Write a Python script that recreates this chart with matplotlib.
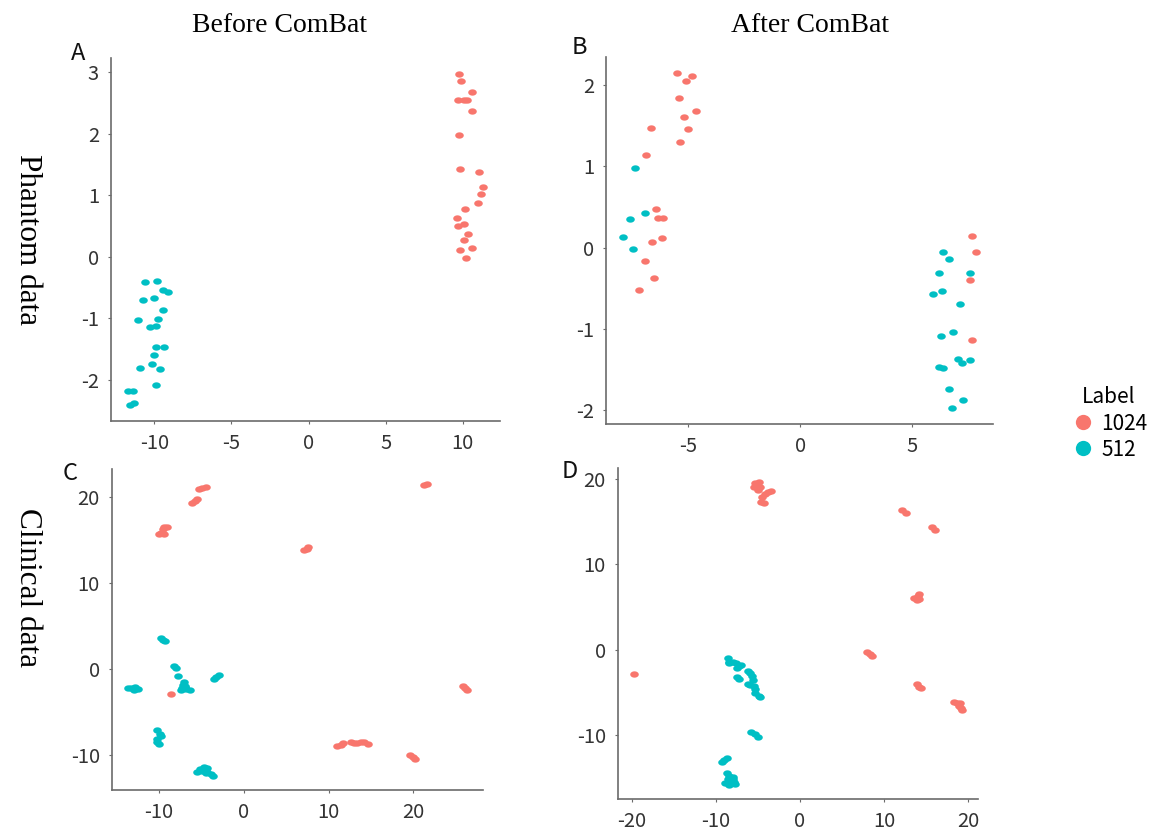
import numpy as np
import matplotlib
matplotlib.use("Agg")
import matplotlib.pyplot as plt
from matplotlib.path import Path
from matplotlib.lines import Line2D

# ---------------- data ----------------
labels = ["1024", "512"]
colors = {"1024": "#F8766D", "512": "#00BFC4"}

# Panel A: Phantom data, before ComBat
A_red_x = [9.78, 9.91, 10.63, 9.68, 10.11, 10.30, 10.63, 9.76, 9.83, 11.06, 11.30, 11.17,
           10.97, 10.15, 9.65, 9.72, 10.11, 10.35, 10.06, 9.83, 10.60, 10.24]
A_red_y = [2.97, 2.85, 2.67, 2.54, 2.54, 2.54, 2.37, 1.98, 1.42, 1.38, 1.125, 1.02,
           0.87, 0.77, 0.63, 0.49, 0.53, 0.36, 0.27, 0.10, 0.14, -0.02]
A_cyan_x = [-10.63, -9.81, -9.44, -9.14, -10.73, -10.02, -9.44, -11.04, -9.74, -10.26, -9.87,
            -9.87, -9.37, -10.02, -10.15, -10.93, -9.65, -9.89, -11.73, -11.38, -11.56, -11.30]
A_cyan_y = [-0.41, -0.39, -0.54, -0.57, -0.70, -0.67, -0.875, -1.04, -1.02, -1.15, -1.125,
            -1.47, -1.47, -1.60, -1.74, -1.82, -1.83, -2.09, -2.19, -2.19, -2.41, -2.375]

# Panel B: Phantom data, after ComBat
B_red_x = [-5.48, -5.10, -4.81, -5.39, -4.67, -5.17, -4.99, -5.36, -6.64, -6.89, -6.45,
           -6.37, -6.12, -6.60, -6.17, -6.91, -6.51, -7.21, 7.64, 7.83, 7.55, 7.65]
B_red_y = [2.15, 2.06, 2.12, 1.84, 1.68, 1.61, 1.46, 1.30, 1.48, 1.14, 0.47,
           0.37, 0.37, 0.074, 0.12, -0.17, -0.37, -0.52, 0.144, -0.053, -0.40, -1.14]
B_cyan_x = [-7.36, -7.59, -6.94, -7.92, -7.47, 6.37, 6.61, 6.20, 7.56, 5.90, 6.31, 7.13,
            6.27, 6.79, 6.20, 6.37, 7.01, 7.19, 7.55, 6.61, 7.25, 6.76]
B_cyan_y = [0.98, 0.35, 0.42, 0.136, -0.012, -0.05, -0.14, -0.32, -0.31, -0.57, -0.54, -0.70,
            -1.09, -1.04, -1.47, -1.49, -1.37, -1.42, -1.39, -1.74, -1.88, -1.98]

# Panel C: Clinical data, before ComBat
C_red_x = [-5.3, -4.9, -4.5, -6.1, -5.8, -5.5, -9.4, -9.1, -9.6, -9.8, -9.4, -10.0,
           7.1, 7.4, 7.6, 21.2, 21.6, 25.8, 26.1, 26.35, -8.58,
           11.0, 11.4, 11.75, 12.6, 13.0, 13.3, 13.8, 14.2, 14.6, 19.6, 20.0, 20.2]
C_red_y = [20.95, 21.1, 21.2, 19.4, 19.6, 19.8, 16.6, 16.5, 16.3, 15.8, 15.7, 15.7,
           13.85, 14.05, 14.25, 21.45, 21.6, -1.95, -2.15, -2.4, -2.87,
           -8.9, -8.75, -8.55, -8.45, -8.6, -8.6, -8.5, -8.45, -8.65, -10.0, -10.2, -10.45]
C_cyan_x = [-9.8, -9.5, -9.3, -8.2, -8.0, -7.83, -3.55, -3.25, -2.95,
            -7.05, -7.2, -6.9, -7.3, -6.8, -6.4, -7.0, -7.4,
            -13.7, -13.3, -12.9, -12.5, -13.0,
            -10.3, -9.9, -9.75, -10.2, -10.3, -10.05,
            -5.2, -4.7, -4.3, -4.9, -4.4, -3.9, -3.7, -5.5, -4.5]
C_cyan_y = [3.6, 3.4, 3.25, 0.4, 0.2, -0.74, -1.1, -0.9, -0.7,
            -1.43, -1.8, -1.9, -2.2, -2.3, -2.4, -2.0, -2.35,
            -2.15, -2.2, -2.1, -2.25, -2.35,
            -7.1, -7.5, -7.8, -8.1, -8.5, -8.7,
            -11.6, -11.4, -11.5, -11.8, -11.9, -12.2, -12.4, -11.9, -12.1]

# Panel D: Clinical data, after ComBat
D_red_x = [-5.4, -4.9, -5.1, -4.7, -5.5, -5.0, -4.2, -3.8, -3.5, -4.5, -4.6, -4.3,
           12.2, 12.6, 15.7, 16.1, 13.6, 14.0, 14.2, 13.9, 14.2,
           8.0, 8.3, 8.55, -19.76, 13.9, 14.2, 14.4,
           18.3, 18.7, 19.0, 18.9, 19.2, 19.3]
D_red_y = [19.5, 19.6, 19.1, 19.0, 19.0, 18.7, 18.2, 18.45, 18.6, 17.9, 17.3, 17.2,
           16.3, 16.0, 14.3, 14.0, 6.0, 6.3, 5.9, 5.8, 6.45,
           -0.3, -0.55, -0.75, -2.9, -4.05, -4.35, -4.55,
           -6.1, -6.2, -6.25, -6.6, -6.9, -7.1]
D_cyan_x = [-8.6, -8.4, -8.0, -7.6, -7.3, -7.0, -7.5, -8.5, -7.5, -7.2,
            -6.2, -6.0, -5.7, -5.6, -5.9, -5.5, -6.2, -5.3, -5.3, -4.9, -4.7,
            -5.8, -5.4, -5.0, -9.3, -9.0, -8.7,
            -8.7, -8.4, -8.0, -8.6, -8.2, -7.8, -8.9, -8.4, -7.7, -8.0]
D_cyan_y = [-1.0, -1.4, -1.4, -1.6, -1.9, -1.8, -2.1, -1.6, -3.2, -3.5,
            -2.5, -2.8, -3.1, -3.6, -4.1, -4.3, -4.0, -4.6, -5.1, -5.4, -5.6,
            -9.7, -9.9, -10.2, -13.2, -12.9, -12.7,
            -14.4, -14.8, -14.9, -15.2, -15.4, -15.5, -15.6, -15.9, -15.8, -15.2]

A_xticks = [-10, -5, 0, 5, 10]; A_yticks = [-2, -1, 0, 1, 2, 3]
B_xticks = [-5, 0, 5]; B_yticks = [-2, -1, 0, 1, 2]
C_xticks = [-10, 0, 10, 20]; C_yticks = [-10, 0, 10, 20]
D_xticks = [-20, -10, 0, 10, 20]; D_yticks = [-10, 0, 10, 20]

col_titles = ["Before ComBat", "After ComBat"]
row_titles = ["Phantom data", "Clinical data"]
panel_letters = ["A", "B", "C", "D"]

# ---------------- figure ----------------
W, H = 1158, 835
fig = plt.figure(figsize=(W / 100, H / 100), dpi=100)

SANS = ["Noto Sans CJK SC", "DejaVu Sans"]
SERIF = ["Liberation Serif", "DejaVu Serif"]

# slightly wide ellipse marker
t = np.linspace(0, 2 * np.pi, 40)
ell = Path(np.column_stack([1.35 * np.cos(t), np.sin(t)]), closed=True)

def px_rect(l, r, b, t_):
    return [l / W, 1 - b / H, (r - l) / W, (b - t_) / H]

panels = [
    dict(rect=px_rect(110.7, 500, 420.7, 58), xlim=(-12.83, 12.42), ylim=(-2.67, 3.23),
         xt=A_xticks, yt=A_yticks, red=(A_red_x, A_red_y), cyan=(A_cyan_x, A_cyan_y), s=38),
    dict(rect=px_rect(605.7, 993, 424.3, 57), xlim=(-8.68, 8.59), ylim=(-2.18, 2.35),
         xt=B_xticks, yt=B_yticks, red=(B_red_x, B_red_y), cyan=(B_cyan_x, B_cyan_y), s=38),
    dict(rect=px_rect(111.7, 483.3, 790.3, 469), xlim=(-15.6, 28.25), ylim=(-14.07, 23.3),
         xt=C_xticks, yt=C_yticks, red=(C_red_x, C_red_y), cyan=(C_cyan_x, C_cyan_y), s=38),
    dict(rect=px_rect(617.7, 978, 799, 467.7), xlim=(-21.7, 21.2), ylim=(-17.5, 21.3),
         xt=D_xticks, yt=D_yticks, red=(D_red_x, D_red_y), cyan=(D_cyan_x, D_cyan_y), s=38),
]

SPINE = "#6b6b6b"
for p in panels:
    ax = fig.add_axes(p["rect"])
    ax.scatter(p["red"][0], p["red"][1], s=p["s"], marker=ell, color=colors["1024"],
               linewidths=0, zorder=3)
    ax.scatter(p["cyan"][0], p["cyan"][1], s=p["s"], marker=ell, color=colors["512"],
               linewidths=0, zorder=3)
    ax.set_xlim(*p["xlim"]); ax.set_ylim(*p["ylim"])
    ax.set_xticks(p["xt"]); ax.set_yticks(p["yt"])
    ax.set_xticklabels([str(v) for v in p["xt"]])
    ax.set_yticklabels([str(v) for v in p["yt"]])
    for s in ["top", "right"]:
        ax.spines[s].set_visible(False)
    for s in ["left", "bottom"]:
        ax.spines[s].set_color(SPINE)
        ax.spines[s].set_linewidth(1.2)
    ax.tick_params(axis="both", length=2.5, width=0.8, color=SPINE, labelcolor="#333333",
                   labelsize=14.5, pad=6)
    for lab in ax.get_xticklabels() + ax.get_yticklabels():
        lab.set_family(SANS)
    ax.set_facecolor("white")

# column titles
fig.text(280 / W, 1 - 25 / H, col_titles[0], ha="center", va="center", fontsize=20, family=SERIF)
fig.text(810 / W, 1 - 25 / H, col_titles[1], ha="center", va="center", fontsize=20, family=SERIF)
# row titles
fig.text(27 / W, 1 - 240 / H, row_titles[0], ha="center", va="center", fontsize=22.5,
         family=SERIF, rotation=270)
fig.text(27 / W, 1 - 588 / H, row_titles[1], ha="center", va="center", fontsize=22.5,
         family=SERIF, rotation=270)
# panel letters
for letter, (x, y) in zip(panel_letters, [(78, 54), (579, 47), (70, 474), (570, 472)]):
    fig.text(x / W, 1 - y / H, letter, ha="center", va="center", fontsize=17,
             family=SANS, color="#111111")

# legend
handles = [Line2D([0], [0], marker="o", linestyle="", markersize=11,
                  markerfacecolor=colors[l], markeredgewidth=0) for l in labels]
leg = fig.legend(handles, labels, title="Label", loc="upper left",
                 bbox_to_anchor=(1062 / W, 1 - 378 / H), frameon=False,
                 prop={"family": SANS, "size": 15}, title_fontproperties={"family": SANS, "size": 15},
                 handletextpad=0.3, labelspacing=0.2, borderaxespad=0, handlelength=1.2)

fig.savefig("out.png", dpi=100, facecolor="white")
